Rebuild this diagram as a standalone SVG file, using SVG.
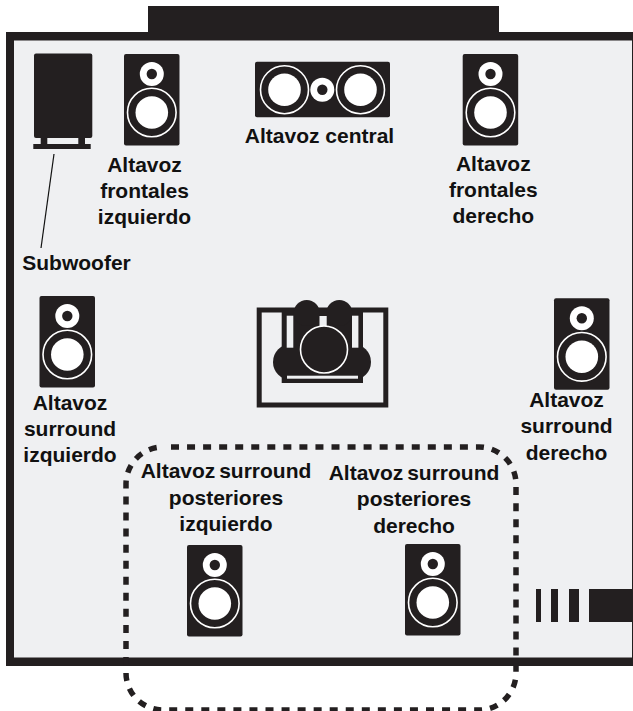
<svg xmlns="http://www.w3.org/2000/svg" width="633" height="711" viewBox="0 0 633 711">
<defs>
<style>
.k{fill:#231f20}
.w{fill:#fff}
.b{fill:#eff0f2}
.r{fill:none;stroke:#fff;stroke-width:1.6}
text{font-family:"Liberation Sans",Arial,sans-serif;font-weight:700;font-size:21px;fill:#111;text-anchor:middle}
</style>
<g id="spk">
<rect class="k" width="55.5" height="91.5" rx="2"/>
<circle class="w" cx="27.8" cy="20" r="12"/>
<circle class="k" cx="27.8" cy="20" r="5.2"/>
<circle class="r" cx="27.8" cy="58.500" r="24.300"/>
<circle class="w" cx="27.8" cy="58.500" r="16.300"/>
</g>
</defs>
<rect width="633" height="711" fill="#fff"/>
<g id="room">
<rect x="148" y="6" width="351" height="28" class="k"/>
<rect x="6" y="32" width="627" height="634" class="k"/>
<rect x="14" y="40.500" width="618" height="617" class="b"/>
<rect x="536" y="589" width="5" height="33" class="k"/>
<rect x="551" y="589" width="7" height="33" class="k"/>
<rect x="569" y="589" width="10" height="33" class="k"/>
<rect x="589" y="589" width="44" height="33" class="k"/>
</g>
<g id="subwoofer">
<rect class="k" x="34" y="53.500" width="58.300" height="84.500" rx="2"/>
<rect class="k" x="40.700" y="136" width="6.600" height="9"/>
<rect class="k" x="78.300" y="136" width="6.700" height="9"/>
<rect class="k" x="33.300" y="144" width="57.400" height="5"/>
<text x="76.500" y="270">Subwoofer</text>
</g>
<g id="front-left"><use href="#spk" x="124" y="54"/>
<text x="144.500" y="172">Altavoz</text><text x="144.500" y="198">frontales</text><text x="144.500" y="224">izquierdo</text></g>
<g id="center">
<rect class="k" x="255" y="61.700" width="135" height="55.600" rx="2"/>
<circle class="r" cx="284.500" cy="89.700" r="24"/><circle class="w" cx="284.500" cy="89.700" r="16.300"/>
<circle class="r" cx="360.500" cy="89.700" r="24"/><circle class="w" cx="360.500" cy="89.700" r="16.300"/>
<circle class="w" cx="322.300" cy="89.700" r="12"/><circle class="k" cx="322.300" cy="89.700" r="5.200"/>
<text x="319.500" y="143">Altavoz central</text></g>
<g id="front-right"><use href="#spk" x="462.700" y="54"/>
<text x="493.300" y="171">Altavoz</text><text x="493.300" y="197">frontales</text><text x="493.300" y="223">derecho</text></g>
<g id="surround-left"><use href="#spk" x="39.500" y="296"/>
<text x="70" y="410">Altavoz</text><text x="70" y="436">surround</text><text x="70" y="462">izquierdo</text></g>
<g id="surround-right"><use href="#spk" x="554" y="298.300"/>
<text x="566.500" y="407">Altavoz</text><text x="566.500" y="433">surround</text><text x="566.500" y="460">derecho</text></g>
<g id="listener">
<rect x="259.200" y="310" width="126.600" height="95" fill="none" stroke="#231f20" stroke-width="5"/>
<rect class="k" x="281.700" y="312" width="81.300" height="71"/>
<circle class="k" cx="306.700" cy="313" r="13"/><circle class="k" cx="339.300" cy="313" r="13"/>
<circle class="k" cx="291" cy="362" r="18"/><circle class="k" cx="353" cy="362" r="18"/>
<rect class="b" x="286.700" y="315.700" width="6.600" height="32"/>
<rect class="b" x="352" y="315.700" width="6.400" height="32"/>
<rect class="b" x="319.500" y="316" width="7.200" height="12"/>
<rect class="b" x="287" y="375.700" width="71" height="3"/>
<circle cx="324" cy="349.500" r="23.500" fill="#231f20" stroke="#fff" stroke-width="1.600"/>
</g>
<g id="rear-left"><use href="#spk" x="187" y="545"/>
<text x="226" y="478" word-spacing="-2">Altavoz surround</text><text x="226" y="505">posteriores</text><text x="226" y="531">izquierdo</text></g>
<g id="rear-right"><use href="#spk" x="405" y="544"/>
<text x="414" y="480" word-spacing="-2">Altavoz surround</text><text x="414" y="506">posteriores</text><text x="414" y="533">derecho</text></g>
<g id="connectors">
<line x1="54" y1="154" x2="41" y2="248" stroke="#111" stroke-width="1.200"/>
<path d="M163 447H479A37 37 0 0 1 516 484V673A37 37 0 0 1 479 710H163A37 37 0 0 1 126 673V484A37 37 0 0 1 163 447" fill="none" stroke="#231f20" stroke-width="5.500" stroke-dasharray="8 8.050" stroke-dashoffset="8.050"/>
</g>
</svg>
